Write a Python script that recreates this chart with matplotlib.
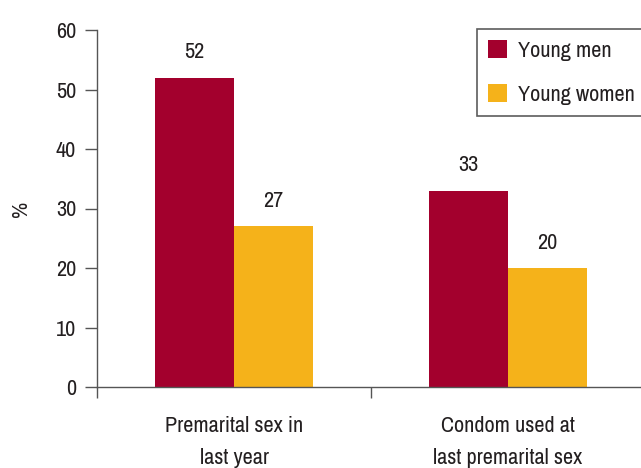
import matplotlib
matplotlib.use("Agg")
import matplotlib.pyplot as plt
from matplotlib import font_manager

categories = ["Premarital sex in\nlast year", "Condom used at\nlast premarital sex"]
series_names = ["Young men", "Young women"]
men = [52, 33]
women = [27, 20]
colors = ["#A3002D", "#F5B21A"]

fonts = sorted({(f.name, f.stretch) for f in font_manager.fontManager.ttflist})
narrow = [n for n, s in fonts if "Narrow" in n or "Condensed" in n]
if narrow:
    fam = narrow[0]
    plt.rcParams["font.family"] = [fam, "DejaVu Sans"]
else:
    plt.rcParams["font.family"] = ["DejaVu Sans"]
plt.rcParams["font.stretch"] = "condensed"

fs = 16
fig = plt.figure(figsize=(6.41, 4.68), dpi=100)
ax = fig.add_axes([97/641, (468-387)/468, (645-97)/641, (387-30)/468])

w = 0.288
x = list(range(len(categories)))
b1 = ax.bar([i - w/2 for i in x], men, width=w, color=colors[0], label=series_names[0])
b2 = ax.bar([i + w/2 for i in x], women, width=w, color=colors[1], label=series_names[1])
for bars, vals in ((b1, men), (b2, women)):
    for r, v in zip(bars, vals):
        ax.annotate(str(v), (r.get_x() + r.get_width()/2, v), xytext=(0, 11),
                    textcoords="offset points", ha="center", va="bottom",
                    fontsize=fs, color="#231f20")

ax.set_xlim(-0.5, 1.5)
ax.set_ylim(0, 60)
ax.set_yticks(range(0, 61, 10))
ax.set_xticks([-0.5, 0.5, 1.5])
ax.set_xticklabels([])
ax.set_xticks(x, minor=True)
ax.set_xticklabels(categories, minor=True, fontsize=fs, color="#231f20", linespacing=1.75)
ax.tick_params(axis="x", which="minor", length=0, pad=21)
ax.tick_params(axis="x", which="major", length=8, width=1, color="#555555", direction="out")
ax.tick_params(axis="y", length=9, width=1, color="#555555", labelsize=fs, labelcolor="#231f20", pad=6)
for s in ("top", "right"):
    ax.spines[s].set_visible(False)
for s in ("left", "bottom"):
    ax.spines[s].set_color("#555555")
    ax.spines[s].set_linewidth(1)
ax.set_ylabel("%", fontsize=fs, color="#231f20", labelpad=18)

leg = ax.legend(loc="upper right", bbox_to_anchor=((646-97)/(645-97), 1.0025), fontsize=fs,
                frameon=True, fancybox=False, edgecolor="#333333", handlelength=0.85,
                handleheight=0.85, borderpad=0.5, labelspacing=1.05, handletextpad=0.5,
                borderaxespad=0.0)
leg.get_frame().set_linewidth(1.2)
for t in leg.get_texts():
    t.set_color("#231f20")

fig.savefig("out.png", dpi=100)
